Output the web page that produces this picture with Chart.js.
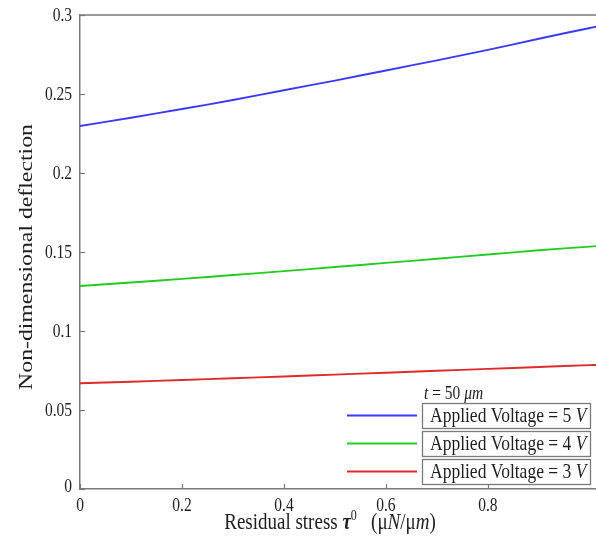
<!DOCTYPE html>
<html>
<head>
<meta charset="utf-8">
<script src="https://cdn.jsdelivr.net/npm/chart.js@4/dist/chart.umd.min.js"></script>
<style>
html,body{margin:0;padding:0;background:#fff;}
#wrap{width:596px;height:541px;position:relative;}
</style>
</head>
<body>
<div id="wrap"><canvas id="c" width="596" height="541"></canvas></div>
<script>
// ---- data ----
const stressX = [0, 0.1, 0.2, 0.3, 0.4, 0.5, 0.6, 0.7, 0.8, 0.9, 1.0, 1.012];
const defl5V = [0.2297, 0.2350, 0.2405, 0.2462, 0.2524, 0.2585, 0.2649, 0.2713, 0.2779, 0.2850, 0.2918, 0.2926];
const defl4V = [0.1285, 0.1307, 0.1330, 0.1354, 0.1379, 0.1405, 0.1431, 0.1457, 0.1484, 0.1511, 0.1534, 0.1537];
const defl3V = [0.0669, 0.0679, 0.0690, 0.0701, 0.0712, 0.0724, 0.0736, 0.0748, 0.0760, 0.0772, 0.0784, 0.0785];
const seriesLabels = ['Applied Voltage = 5 ', 'Applied Voltage = 4 ', 'Applied Voltage = 3 '];
const xTicks = [0, 0.2, 0.4, 0.6, 0.8];
const yTicks = [0, 0.05, 0.1, 0.15, 0.2, 0.25, 0.3];

const SERIF = '"Liberation Serif", "DejaVu Serif", serif';
const AXIS = '#7a7a7a';
const TXT = '#1e1e1e';
const STRETCH = 1.25;
const colors = ['#3a3aff', '#22cc22', '#e02a2a'];

function pts(ys){ return stressX.map((x,i)=>({x:x,y:ys[i]})); }

function fontOf(s, size){ return (s.i?'italic ':'') + (s.b?'bold ':'') + (s.sz||size) + 'px ' + SERIF; }

// draws mixed-style text, vertically stretched like the reference
function drawSegs(ctx, segs, x, y, size, align){
  let total = 0;
  segs.forEach(s=>{ ctx.font = fontOf(s,size); s.w = ctx.measureText(s.t).width; total += s.w; });
  let cx = align==='center' ? x - total/2 : (align==='right' ? x - total : x);
  segs.forEach(s=>{
    ctx.font = fontOf(s,size);
    ctx.save();
    ctx.translate(cx, y + (s.dy||0));
    ctx.scale(1, STRETCH);
    ctx.textAlign = 'left';
    ctx.fillText(s.t, 0, 0);
    ctx.restore();
    cx += s.w;
  });
}

const decor = {
  id:'decor',
  afterDraw(chart){
    const ctx = chart.ctx, a = chart.chartArea;
    const xs = chart.scales.x, ys = chart.scales.y;
    ctx.save();
    ctx.strokeStyle = AXIS; ctx.lineWidth = 1.5;
    // top border
    ctx.beginPath(); ctx.moveTo(a.left, a.top); ctx.lineTo(a.right+2, a.top); ctx.stroke();
    // inward ticks
    ctx.lineWidth = 1.2;
    xTicks.forEach(v=>{ const px = Math.round(xs.getPixelForValue(v))+0.5; ctx.beginPath(); ctx.moveTo(px, a.bottom); ctx.lineTo(px, a.bottom-5); ctx.stroke(); });
    yTicks.forEach(v=>{ const py = Math.round(ys.getPixelForValue(v))+0.5; ctx.beginPath(); ctx.moveTo(a.left, py); ctx.lineTo(a.left+5, py); ctx.stroke(); });
    // tick labels (positions from the library's scales)
    ctx.fillStyle = TXT; ctx.textBaseline = 'middle';
    xs.ticks.forEach(t=>{
      const px = xs.getPixelForValue(t.value);
      drawSegs(ctx, [{t:String(t.value)}], px, a.bottom + 17, 15.5, 'center');
    });
    ys.ticks.forEach(t=>{
      const py = ys.getPixelForValue(t.value);
      const off = t.value === 0 ? -2 : 1;
      drawSegs(ctx, [{t:String(t.value)}], a.left - 8, py + off, 15.5, 'right');
    });
    // axis titles
    drawSegs(ctx, [
      {t:'Residual stress '},
      {t:'τ', i:true, b:true, sz:19},
      {t:'0', sz:12, dy:-7},
      {t:'   (μ'},
      {t:'N', i:true},
      {t:'/μ'},
      {t:'m', i:true},
      {t:')'}
    ], 330, 523, 19, 'center');
    ctx.save();
    ctx.translate(27, 257); ctx.rotate(-Math.PI/2);
    ctx.scale(STRETCH, 1);
    ctx.textAlign = 'center';
    ctx.font = '19px ' + SERIF;
    ctx.fillText('Non-dimensional deflection', 0, 0);
    ctx.restore();
    // legend
    drawSegs(ctx, [{t:'t', i:true},{t:' = 50 '},{t:'μm', i:true}], 424, 394, 15.5, 'left');
    const boxTop = [403, 431, 459];
    chart.data.datasets.forEach((ds,i)=>{
      const bt = boxTop[i];
      ctx.strokeStyle = AXIS; ctx.lineWidth = 1.3;
      ctx.strokeRect(422.5, bt+0.5, 168, 25);
      ctx.strokeStyle = ds.borderColor; ctx.lineWidth = 1.8;
      ctx.beginPath(); ctx.moveTo(347, bt+12.5); ctx.lineTo(417, bt+12.5); ctx.stroke();
      ctx.fillStyle = TXT;
      drawSegs(ctx, [{t:ds.label},{t:'V', i:true}], 430, bt+13.5, 17.5, 'left');
    });
    ctx.restore();
  }
};

new Chart(document.getElementById('c'), {
  type:'line',
  data:{
    datasets:[
      {label:seriesLabels[0], data:pts(defl5V), borderColor:colors[0], borderWidth:1.9, pointRadius:0, tension:0.3, fill:false},
      {label:seriesLabels[1], data:pts(defl4V), borderColor:colors[1], borderWidth:1.9, pointRadius:0, tension:0.3, fill:false},
      {label:seriesLabels[2], data:pts(defl3V), borderColor:colors[2], borderWidth:1.9, pointRadius:0, tension:0.3, fill:false}
    ]
  },
  options:{
    responsive:false, animation:false,
    layout:{padding:{top:15, right:0, left:0, bottom:0}},
    plugins:{legend:{display:false}, tooltip:{enabled:false}},
    scales:{
      x:{
        type:'linear', min:0, max:1.012,
        afterBuildTicks(s){ s.ticks = xTicks.map(v=>({value:v})); },
        afterFit(s){ s.height = 52; },
        grid:{display:false, drawTicks:false},
        border:{display:true, color:AXIS, width:1.5},
        ticks:{display:false}
      },
      y:{
        type:'linear', min:0, max:0.3,
        afterBuildTicks(s){ s.ticks = yTicks.map(v=>({value:v})); },
        afterFit(s){ s.width = 80; },
        grid:{display:false, drawTicks:false},
        border:{display:true, color:AXIS, width:1.5},
        ticks:{display:false}
      }
    }
  },
  plugins:[decor]
});
</script>
</body>
</html>
